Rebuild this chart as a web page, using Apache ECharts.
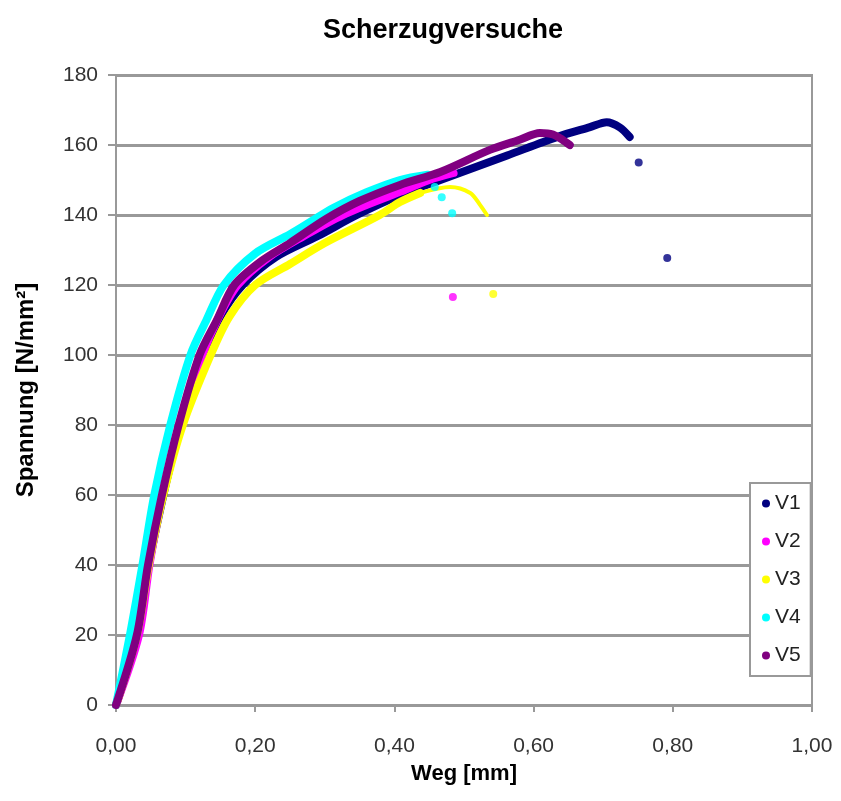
<!DOCTYPE html>
<html>
<head>
<meta charset="utf-8">
<script src="https://cdn.jsdelivr.net/npm/echarts@6/dist/echarts.min.js"></script>
<style>
html,body{margin:0;padding:0;background:#fff;}
#chart{width:841px;height:801px;}
</style>
</head>
<body>
<div id="chart"></div>
<script>
// ---- data (Weg [mm], Spannung [N/mm²]) ----
const seriesNames = ['V1', 'V2', 'V3', 'V4', 'V5'];
const xTicks = [0, 0.2, 0.4, 0.6, 0.8, 1.0];
const yTicks = [0, 20, 40, 60, 80, 100, 120, 140, 160, 180];

const v1Curve = [[0,0],[0.03,20],[0.047,40],[0.068,60],[0.093,80],[0.126,100],[0.15,111],[0.182,120],[0.23,128],[0.29,134],[0.346,140],[0.408,145.7],[0.466,150],[0.562,157],[0.634,162.3],[0.681,165.1],[0.705,166.5],[0.724,165],[0.738,162.3]];
const v1Tail = [];
const v1Single = [[0.751,155],[0.792,127.7]];

const v2Curve = [[0,0],[0.033,20],[0.048,40],[0.067,60],[0.092,80],[0.124,100],[0.148,111],[0.175,120],[0.22,128],[0.27,134],[0.326,140],[0.408,146.6],[0.45,150],[0.485,152]];
const v2Tail = [];
const v2Single = [[0.484,116.6]];

const v3Curve = [[0,0],[0.03,20],[0.047,40],[0.068,60],[0.096,80],[0.136,100],[0.163,111],[0.2,120],[0.25,126],[0.3,132],[0.379,140],[0.408,143.7],[0.437,146.3]];
const v3Tail = [[0.437,146.3],[0.48,148],[0.509,146.3],[0.523,142.9],[0.533,140]];
const v3Single = [[0.542,117.4]];

const v4Curve = [[0,0],[0.02,20],[0.038,40],[0.055,60],[0.078,80],[0.107,100],[0.13,110],[0.155,120],[0.2,129],[0.25,134.5],[0.279,138],[0.312,142],[0.36,146.5],[0.408,150],[0.448,151.5]];
const v4Tail = [];
const v4Single = [[0.458,148],[0.468,145.1],[0.483,140.5]];

const v5Curve = [[0,0],[0.03,20],[0.046,40],[0.066,60],[0.09,80],[0.12,100],[0.145,110],[0.17,120],[0.21,127],[0.25,132],[0.303,139],[0.35,144],[0.408,148.6],[0.466,152.3],[0.537,158.6],[0.58,161.5],[0.609,163.4],[0.628,163],[0.642,161.4],[0.652,160]];
const v5Tail = [];
const v5Single = [];

const seriesColors = ['#000080', '#FF00FF', '#FFFF00', '#00FFFF', '#800080'];
const curves = [v1Curve, v2Curve, v3Curve, v4Curve, v5Curve];
const tails = [v1Tail, v2Tail, v3Tail, v4Tail, v5Tail];
const singles = [v1Single, v2Single, v3Single, v4Single, v5Single];

const FONT = 'Liberation Sans, Arial, sans-serif';
const chart = echarts.init(document.getElementById('chart'), null, {renderer: 'canvas'});

const series = [];
seriesNames.forEach((n, i) => {
  series.push({
    name: n, type: 'line', data: curves[i], smooth: 0.3, showSymbol: false,
    color: seriesColors[i],
    lineStyle: {width: 8, color: seriesColors[i], cap: 'round', join: 'round'},
    z: 2 + i, animation: false
  });
  if (tails[i].length) {
    series.push({
      name: n, type: 'line', data: tails[i], smooth: 0.3, showSymbol: false,
      color: seriesColors[i],
      lineStyle: {width: 4, color: seriesColors[i], cap: 'round', join: 'round'},
      z: 2 + i, animation: false
    });
  }
  series.push({
    name: n, type: 'scatter', data: singles[i], symbolSize: 8,
    itemStyle: {color: seriesColors[i]}, z: 2 + i, animation: false
  });
});

chart.setOption({
  animation: false,
  backgroundColor: '#ffffff',
  title: {
    text: 'Scherzugversuche', left: 318, top: 12,
    textStyle: {fontFamily: FONT, fontSize: 27, fontWeight: 'bold', color: '#000'}
  },
  legend: {
    orient: 'vertical', left: 750, top: 483,
    data: seriesNames.map(n => ({name: n, icon: 'circle'})),
    itemWidth: 8, itemHeight: 8, itemGap: 17,
    padding: [10, 10, 10, 12],
    borderColor: '#999', borderWidth: 2, backgroundColor: '#fff',
    textStyle: {fontFamily: FONT, fontSize: 21, color: '#222'}
  },
  grid: {left: 116, right: 29, top: 75, bottom: 96, show: true, borderColor: '#999', borderWidth: 2},
  xAxis: {
    type: 'value', min: 0, max: 1, interval: 0.2,
    name: 'Weg [mm]', nameLocation: 'middle', nameGap: 58,
    nameTextStyle: {fontFamily: FONT, fontSize: 22, fontWeight: 'bold', color: '#000'},
    axisLine: {show: true, lineStyle: {color: '#999', width: 2}},
    axisTick: {show: true, length: 7, lineStyle: {color: '#999', width: 2}},
    splitLine: {show: false},
    axisLabel: {fontFamily: FONT, fontSize: 21, color: '#333', margin: 31,
      formatter: v => v.toFixed(2).replace('.', ',')}
  },
  yAxis: {
    type: 'value', min: 0, max: 180, interval: 20,
    name: 'Spannung [N/mm²]', nameLocation: 'middle', nameGap: 78,
    nameTextStyle: {fontFamily: FONT, fontSize: 24, fontWeight: 'bold', color: '#000'},
    axisLine: {show: true, lineStyle: {color: '#999', width: 2}},
    axisTick: {show: true, length: 8, lineStyle: {color: '#999', width: 2}},
    splitLine: {show: true, lineStyle: {color: '#999', width: 3}},
    axisLabel: {fontFamily: FONT, fontSize: 21, color: '#333', margin: 18}
  },
  series: series
});
</script>
</body>
</html>
